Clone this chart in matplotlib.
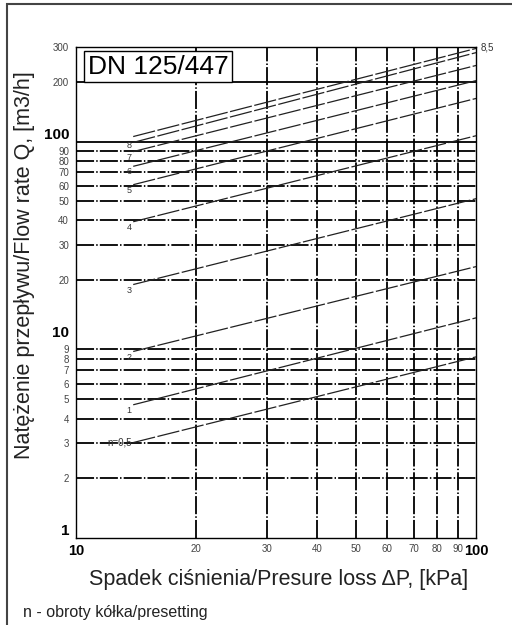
import matplotlib.pyplot as plt
from matplotlib.patches import Rectangle

plt.rcParams['font.family'] = ['Liberation Sans', 'DejaVu Sans']

# presetting (turns of the wheel) and flow rate read at both ends of each line
presets = ['n=0,5', '1', '2', '3', '4', '5', '6', '7', '8', '8,5']
dp_start = 13.9
dp_end = 100
q_start = [3.03, 4.70, 8.73, 19.0, 39.4, 60.6, 75.0, 89.0, 99.0, 106.0]
q_end = [8.2, 12.9, 23.4, 51.5, 107.0, 165.0, 203.0, 242.0, 281.0, 295.0]

x_ticks = [10, 20, 30, 40, 50, 60, 70, 80, 90, 100]
y_ticks = [1, 2, 3, 4, 5, 6, 7, 8, 9, 10, 20, 30, 40, 50, 60, 70, 80, 90, 100, 200, 300]
y_grid_dashed = [2, 3, 4, 5, 6, 7, 8, 9, 20, 30, 40, 50, 60, 70, 80, 90]
y_grid_solid = [100, 200]
x_grid = [20, 30, 40, 50, 60, 70, 80, 90]
bold_ticks = [1, 10, 100]

fig = plt.figure(figsize=(5.12, 6.25), dpi=100)
ax = fig.add_axes([76 / 512, 1 - 538 / 625, 400 / 512, 491 / 625])
ax.set_xscale('log')
ax.set_yscale('log')
ax.set_xlim(10, 100)
ax.set_ylim(1, 300)

dashdot = (0, (10, 1.2, 0.8, 1.2))
for y in y_grid_dashed:
    ax.axhline(y, color='black', lw=1.3, ls=dashdot, zorder=1)
for y in y_grid_solid:
    ax.axhline(y, color='black', lw=1.3, zorder=1)
for x in x_grid:
    ax.axvline(x, color='black', lw=1.3, ls=dashdot, zorder=1)

for name, qs, qe in zip(presets, q_start, q_end):
    ax.plot([dp_start, dp_end], [qs, qe], color='#222222', lw=0.9,
            ls=(0, (18, 2)), zorder=2)
    if name == '8,5':
        ax.annotate(name, (dp_end, qe), xytext=(3, 1), textcoords='offset points',
                    ha='left', va='center', fontsize=7, color='#333333',
                    annotation_clip=False)
    elif name.startswith('n'):
        ax.annotate(name, (dp_start, qs), xytext=(-1, 0), textcoords='offset points',
                    ha='right', va='center', fontsize=7, color='#333333')
    else:
        dy = -2 if name == '8' else -4
        ax.annotate(name, (dp_start, qs), xytext=(-1, dy), textcoords='offset points',
                    ha='right', va='center', fontsize=6.5, color='#333333')

ax.set_xticks(x_ticks)
ax.set_xticklabels([str(v) for v in x_ticks])
ax.set_yticks(y_ticks)
ax.set_yticklabels([str(v) for v in y_ticks])
ax.minorticks_off()
ax.tick_params(axis='both', length=0)
ax.tick_params(axis='y', pad=5)
ax.tick_params(axis='x', pad=4)

for lab, v in zip(ax.get_xticklabels(), x_ticks):
    if v in bold_ticks:
        lab.set_fontsize(10.5)
        lab.set_fontweight('bold')
    else:
        lab.set_fontsize(7)
        lab.set_color('#444444')
for lab, v in zip(ax.get_yticklabels(), y_ticks):
    if v in bold_ticks:
        lab.set_fontsize(11)
        lab.set_fontweight('bold')
        lab.set_va('bottom')
    else:
        lab.set_fontsize(7)
        lab.set_color('#444444')

for sp in ax.spines.values():
    sp.set_linewidth(1.0)

fig.text(158 / 512, 1 - 66.5 / 625, 'DN 125/447', fontsize=19, ha='center', va='center',
         bbox=dict(boxstyle='square,pad=0.12', fc='white', ec='black', lw=1.0), zorder=5)

fig.text(25 / 512, 1 - 265 / 625, 'Natężenie przepływu/Flow rate Q, [m3/h]',
         rotation=90, ha='center', va='center', fontsize=15.5, color='#222222')
fig.text(279 / 512, 1 - 580 / 625, 'Spadek ciśnienia/Presure loss ΔP, [kPa]',
         ha='center', va='center', fontsize=15.5, color='#222222')
fig.text(23 / 512, 1 - 613 / 625, 'n - obroty kółka/presetting',
         ha='left', va='center', fontsize=11.5, color='#222222')

fig.add_artist(Rectangle((7 / 512, -0.1), 1.2, 1.1 - 4 / 625, transform=fig.transFigure,
                         fill=False, ec='#444444', lw=1.5))

fig.savefig('out.png', dpi=100)
